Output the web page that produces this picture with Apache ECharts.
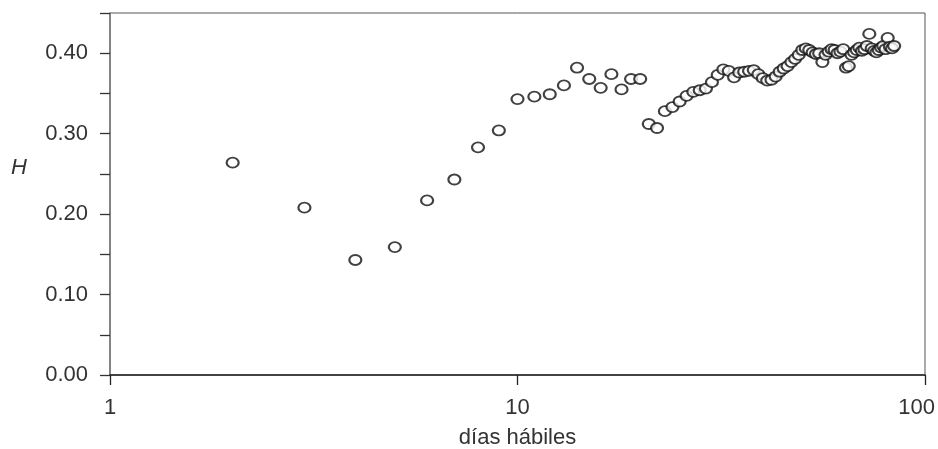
<!DOCTYPE html>
<html>
<head>
<meta charset="utf-8">
<script src="https://cdn.jsdelivr.net/npm/echarts@6/dist/echarts.min.js"></script>
<style>html,body{margin:0;padding:0;background:#fff}#c{width:938px;height:449px}</style>
</head>
<body>
<div id="c"></div>
<script>
// días hábiles (trading days)
const days = [2,3,4,5,6,7,8,9,10,11,12,13,14,15,16,17,18,19,20,
  21,22,23,24,25,26,27,28,29,30,31,32,33,34,35,36,37,38,39,40,
  41,42,43,44,45,46,47,48,49,50,51,52,53,54,55,56,57,58,59,60,
  61,62,63,64,65,66,67,68,69,70,71,72,73,74,75,76,77,78,79,80,
  81,82,83,84];
// Hurst exponent H
const hValues = [0.264,0.208,0.143,0.159,0.217,0.243,0.283,0.304,0.343,0.346,0.349,0.360,0.382,0.368,0.357,0.374,0.355,0.368,0.368,
  0.312,0.307,0.328,0.333,0.340,0.347,0.352,0.354,0.356,0.364,0.373,0.380,0.378,0.370,0.376,0.377,0.378,0.379,0.374,0.369,
  0.366,0.367,0.371,0.377,0.381,0.384,0.389,0.393,0.398,0.404,0.406,0.404,0.401,0.399,0.400,0.389,0.398,0.402,0.405,0.404,
  0.400,0.402,0.405,0.382,0.384,0.398,0.401,0.404,0.407,0.403,0.405,0.409,0.424,0.406,0.403,0.401,0.404,0.407,0.409,0.405,
  0.419,0.408,0.406,0.409];
const xTicks = [1, 10, 100];
const yTickLabels = ['0.00','0.10','0.20','0.30','0.40'];

const points = days.map((d, i) => [d, hValues[i]]);
const font = 'Liberation Sans';
const fs = 22;
const xMax = xTicks[xTicks.length - 1];

const chart = echarts.init(document.getElementById('c'), null, {renderer: 'canvas'});
chart.setOption({
  animation: false,
  backgroundColor: '#fff',
  grid: {left: 110, right: 13, top: 13, bottom: 74, containLabel: false, outerBoundsMode: 'none',
    show: true, borderColor: '#555', borderWidth: 1},
  xAxis: {
    type: 'log', logBase: 10, min: xTicks[0], max: xMax,
    name: 'días hábiles', nameLocation: 'middle', nameGap: 52,
    nameTextStyle: {fontFamily: font, fontSize: fs, color: '#333'},
    axisLine: {show: true, onZero: false, lineStyle: {color: '#222', width: 1.5}},
    axisTick: {show: true, length: 10, lineStyle: {color: '#222', width: 1.3}},
    axisLabel: {fontFamily: font, fontSize: fs, color: '#333', margin: 22,
      alignMaxLabel: 'right',
      formatter: v => v === xMax ? '{m|' + v + '}' : String(v),
      rich: {m: {fontFamily: font, fontSize: fs, color: '#333', padding: [0, -10, 0, 0]}}},
    splitLine: {show: false}, minorTick: {show: false}
  },
  yAxis: {
    type: 'value', min: 0, max: 0.45, interval: 0.05,
    axisLine: {show: true, lineStyle: {color: '#777', width: 1.5}},
    axisTick: {show: true, length: 10, lineStyle: {color: '#333', width: 1.3}},
    axisLabel: {fontFamily: font, fontSize: fs, color: '#333', margin: 22,
      formatter: v => {
        const k = Math.round(v * 100);
        if (k % 10 !== 0) return '';
        const idx = k / 10;
        return idx < yTickLabels.length ? yTickLabels[idx] : '';
      }},
    splitLine: {show: false}
  },
  graphic: [{
    type: 'text', left: 11, top: 157,
    style: {text: 'H', fontFamily: font, fontStyle: 'italic', fontSize: fs, fill: '#333'}
  }],
  series: [{
    type: 'scatter',
    data: points,
    symbol: 'emptyCircle',
    symbolSize: [12, 10],
    itemStyle: {color: '#111', borderColor: '#111', borderWidth: 1.3},
    emphasis: {disabled: true}
  }]
});
</script>
</body>
</html>
